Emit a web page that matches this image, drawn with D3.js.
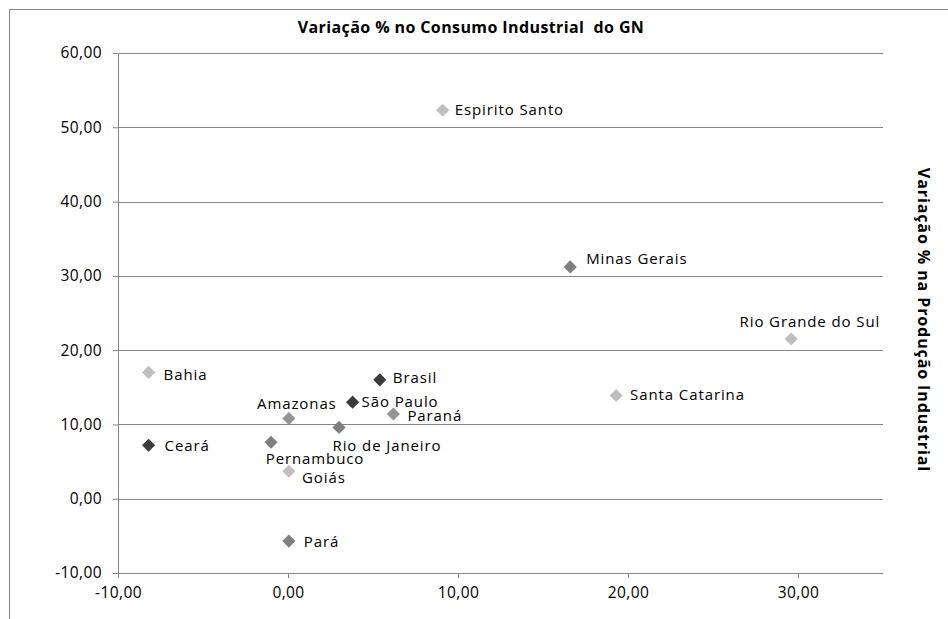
<!DOCTYPE html>
<html>
<head>
<meta charset="utf-8">
<script src="https://cdn.jsdelivr.net/npm/d3@7"></script>
<style>
  body { margin: 0; background: #fff; }
  text { font-family: "Open Sans", "Noto Sans", sans-serif; fill: #000; }
</style>
</head>
<body>
<svg id="chart" width="948" height="619"></svg>
<script>
// states and their variation (x = consumo GN, y = producao industrial)
var states = ["Espirito Santo", "Minas Gerais", "Rio Grande do Sul", "Santa Catarina", "Bahia", "Ceará",
              "Brasil", "São Paulo", "Paraná", "Amazonas", "Rio de Janeiro", "Pernambuco", "Goiás", "Pará"];
var consumo = [9.1, 16.6, 29.6, 19.3, -8.2, -8.2, 5.4, 3.8, 6.2, 0.05, 3.0, -1.0, 0.05, 0.05];
var producao = [52.3, 31.2, 21.5, 13.9, 17.0, 7.2, 16.0, 13.0, 11.4, 10.8, 9.6, 7.6, 3.7, -5.7];
var shade = ["light", "mid", "light", "light", "light", "dark", "dark", "dark", "midlight", "midlight", "mid", "mid", "light", "mid"];

var xTicks = [-10, 0, 10, 20, 30];
var yTicks = [-10, 0, 10, 20, 30, 40, 50, 60];

var shadeColor = {dark: "#3b3b3b", mid: "#7f7f7f", midlight: "#939393", light: "#bfbfbf"};

// label placement around the marker (dx, dy, anchor)
var labelPlace = {
  "Espirito Santo": [12, 5, "start"],
  "Minas Gerais": [16, -3, "start"],
  "Rio Grande do Sul": [89, -12, "end"],
  "Santa Catarina": [14, 5, "start"],
  "Bahia": [15, 8, "start"],
  "Ceará": [16, 6, "start"],
  "Brasil": [13, 3, "start"],
  "São Paulo": [9, 5, "start"],
  "Paraná": [14, 7, "start"],
  "Amazonas": [8, -9, "middle"],
  "Rio de Janeiro": [48, 24, "middle"],
  "Pernambuco": [44, 22, "middle"],
  "Goiás": [35, 12, "middle"],
  "Pará": [15, 6, "start"]
};

var svg = d3.select("#chart"),
    margin = {top: 53, right: 64, bottom: 46, left: 118},
    width = +svg.attr("width") - margin.left - margin.right,
    height = +svg.attr("height") - margin.top - margin.bottom;

var grey = "#868686";

// outer frame (only top and left visible)
svg.append("path")
    .attr("d", "M9.5,619 L9.5,9.5 L948,9.5")
    .attr("fill", "none")
    .attr("stroke", grey)
    .attr("stroke-width", 1);

var x = d3.scaleLinear().domain([-10, 35]).range([0, 765]),
    y = d3.scaleLinear().domain([-10, 60]).range([520, 0]);

var g = svg.append("g")
    .attr("transform", "translate(" + margin.left + "," + margin.top + ")");

// horizontal gridlines
g.selectAll(".grid")
    .data(yTicks.filter(function(d){ return d > -10; }))
    .enter()
    .append("line")
    .attr("class", "grid")
    .attr("x1", 0)
    .attr("x2", x(35))
    .attr("y1", function(d){ return Math.round(y(d)) + 0.5; })
    .attr("y2", function(d){ return Math.round(y(d)) + 0.5; })
    .attr("stroke", grey);

var fmt = function(d){ return d3.format(".2f")(d).replace(".", ",").replace("\u2212", "-"); };

var xAxis = g.append("g")
    .attr("transform", "translate(0," + y(-10) + ")")
    .call(d3.axisBottom(x).tickValues(xTicks).tickSize(5).tickPadding(9).tickFormat(fmt));

var yAxis = g.append("g")
    .call(d3.axisLeft(y).tickValues(yTicks).tickSize(5).tickPadding(11).tickFormat(fmt));

[xAxis, yAxis].forEach(function(a){
  a.select(".domain").attr("stroke", grey);
  a.selectAll(".tick line").attr("stroke", grey);
  a.selectAll(".tick text")
      .attr("font-size", 15.5)
      .attr("letter-spacing", 0.4)
      .attr("font-family", "Open Sans, sans-serif")
      .attr("fill", "#000");
});
xAxis.select(".domain").attr("d", "M0.5,0.5H" + x(35));

var pts = states.map(function(s, i){
  return {name: s, cx: consumo[i], cy: producao[i], shade: shade[i]};
});

var diamond = d3.symbol().type(d3.symbolDiamond2).size(110);

g.selectAll(".pt")
    .data(pts)
    .enter()
    .append("path")
    .attr("class", "pt")
    .attr("d", diamond)
    .attr("transform", function(d){ return "translate(" + x(d.cx) + "," + y(d.cy) + ")"; })
    .attr("fill", function(d){ return shadeColor[d.shade]; });

g.selectAll(".lbl")
    .data(pts)
    .enter()
    .append("text")
    .attr("class", "lbl")
    .attr("x", function(d){ return x(d.cx) + labelPlace[d.name][0]; })
    .attr("y", function(d){ return y(d.cy) + labelPlace[d.name][1]; })
    .attr("text-anchor", function(d){ return labelPlace[d.name][2]; })
    .attr("font-size", 15)
    .attr("letter-spacing", 0.9)
    .text(function(d){ return d.name; });

// title
svg.append("text")
    .attr("x", 471)
    .attr("y", 33)
    .attr("text-anchor", "middle")
    .attr("font-size", 16)
    .attr("font-weight", "bold")
    .attr("letter-spacing", 0.4)
    .style("white-space", "pre")
    .text("Variação % no Consumo Industrial  do GN");

// right side axis title
svg.append("text")
    .attr("transform", "translate(918,320) rotate(90)")
    .attr("text-anchor", "middle")
    .attr("font-size", 16)
    .attr("font-weight", "bold")
    .attr("letter-spacing", 0.9)
    .text("Variação % na Produção Industrial");
</script>
</body>
</html>
